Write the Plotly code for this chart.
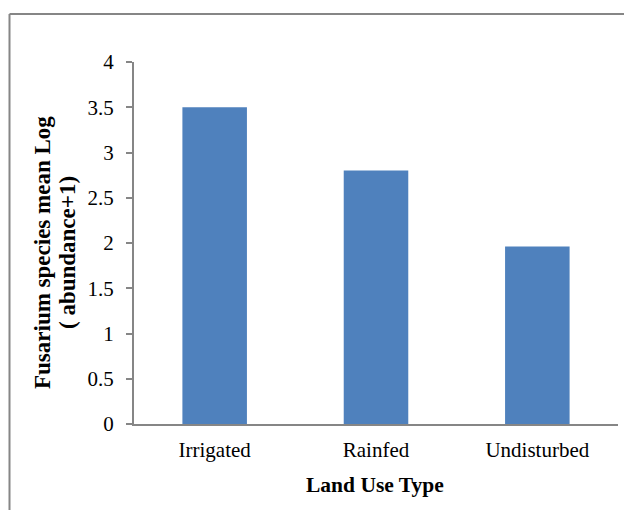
import plotly.graph_objects as go

categories = ["Irrigated", "Rainfed", "Undisturbed"]
values = [3.5, 2.8, 1.96]
y_ticks = [0, 0.5, 1, 1.5, 2, 2.5, 3, 3.5, 4]
y_ticklabels = ["0", "0.5", "1", "1.5", "2", "2.5", "3", "3.5", "4"]
x_title = "Land Use Type"
y_title_lines = ["Fusarium species mean Log", "( abundance+1)"]

# page body adds an 8px offset; compensate
OFF = 8
W, H = 632 - OFF, 510 - OFF
L, R, T, B = 134 - OFF, 14, 62 - OFF, 86
pw, ph = W - L - R, H - T - B

def px(x):
    return (x - OFF - L) / pw

def py(y):
    return (H - B - (y - OFF)) / ph

font = "Liberation Serif, Times New Roman, serif"
axis_col = "#868686"
FS = 21

fig = go.Figure(go.Bar(x=categories, y=values, marker=dict(color="#4F81BD", line=dict(width=0)),
                       width=0.4))

annotations = [
    dict(text="<b>%s</b>" % x_title, xref="paper", yref="paper", x=px(375), y=py(485),
         xanchor="center", yanchor="middle", showarrow=False, font=dict(size=21.5)),
    dict(text="<b>%s</b>" % y_title_lines[0], xref="paper", yref="paper", x=px(42), y=py(253),
         xanchor="center", yanchor="middle", showarrow=False, textangle=-90, font=dict(size=23)),
    dict(text="<b>%s</b>" % y_title_lines[1], xref="paper", yref="paper", x=px(67), y=py(253),
         xanchor="center", yanchor="middle", showarrow=False, textangle=-90, font=dict(size=23)),
]

fig.update_layout(
    width=W, height=H,
    margin=dict(l=L, r=R, t=T, b=B, pad=0),
    paper_bgcolor="white", plot_bgcolor="white",
    font=dict(family=font, size=FS, color="black"),
    showlegend=False,
    xaxis=dict(
        showline=True, linecolor=axis_col, linewidth=2,
        ticks="", showgrid=False, zeroline=False,
        tickfont=dict(size=FS), ticklabelstandoff=6,
    ),
    yaxis=dict(
        range=[0, 4], tickvals=y_ticks, ticktext=y_ticklabels,
        showline=True, linecolor=axis_col, linewidth=2,
        ticks="outside", ticklen=6, tickcolor=axis_col, tickwidth=1.5,
        showgrid=False, zeroline=False,
        tickfont=dict(size=FS), ticklabelstandoff=8,
    ),
    annotations=annotations,
    shapes=[
        dict(type="line", xref="paper", yref="paper", x0=px(9.5), x1=px(700), y0=py(14), y1=py(14),
             line=dict(color=axis_col, width=2)),
        dict(type="line", xref="paper", yref="paper", x0=px(9.5), x1=px(9.5), y0=py(14), y1=py(560),
             line=dict(color=axis_col, width=2)),
    ],
)

fig.write_html("out.html")
